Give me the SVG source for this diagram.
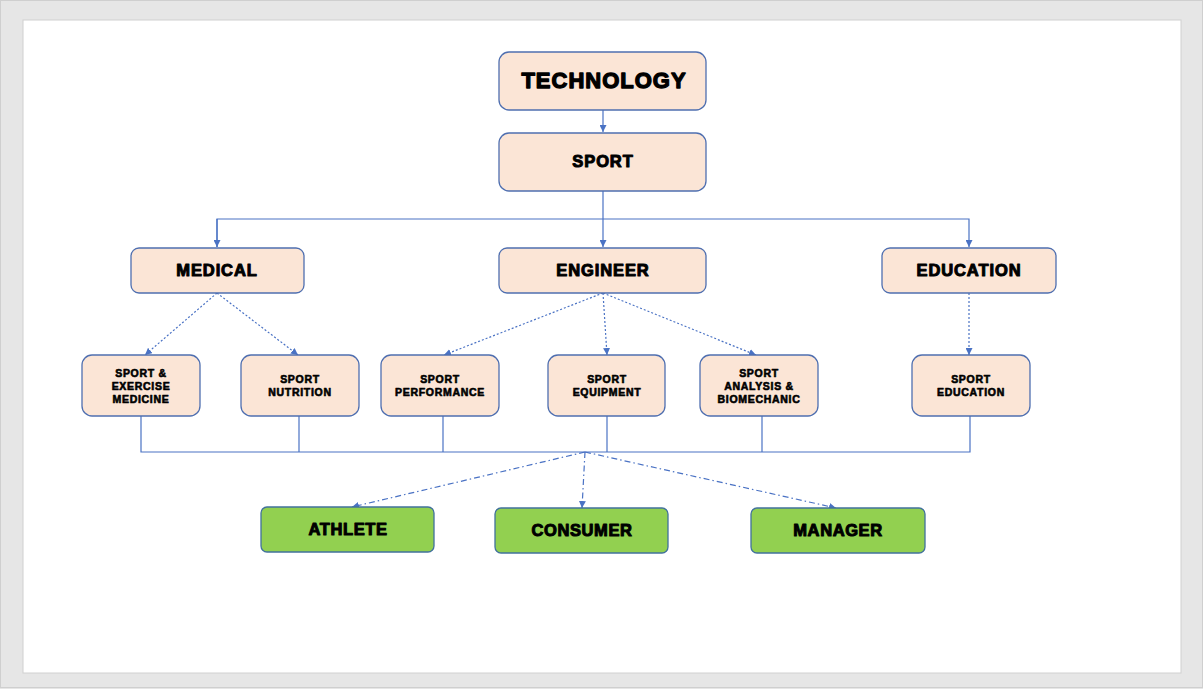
<svg xmlns="http://www.w3.org/2000/svg" width="1203" height="689" viewBox="0 0 1203 689">
<defs>
<style>
.n{fill:#fbe5d6;stroke:#4f6fb0;stroke-width:1.3}
.g{fill:#92d050;stroke:#41719c;stroke-width:1.3}
.t{font-family:"Liberation Sans",Arial,sans-serif;font-weight:bold;fill:#000;stroke:#000;text-anchor:middle;stroke-linejoin:round}
.big{font-size:22px;stroke-width:1.3;letter-spacing:1px}
.mid{font-size:16.5px;stroke-width:1;letter-spacing:0.9px}
.gm{font-size:16.5px;stroke-width:1;letter-spacing:0.6px}
.sm{font-size:10.5px;stroke-width:0.6;letter-spacing:0.7px}
.solid{stroke:#4a72c4;stroke-width:1.2;fill:none}
.dot{stroke:#4a72c4;stroke-width:1.2;fill:none;stroke-dasharray:2 2}
.dd{stroke:#4a72c4;stroke-width:1.2;fill:none;stroke-dasharray:6 3 1.5 3}
</style>
<marker id="ah" viewBox="0 0 10 10" refX="10" refY="5" markerWidth="7" markerHeight="7" orient="auto" markerUnits="userSpaceOnUse">
<path d="M0,0 L10,5 L0,10 z" fill="#4a72c4"/>
</marker>
</defs>
<rect x="0" y="0" width="1203" height="689" fill="#e6e6e6"/>
<rect x="0.5" y="0.5" width="1202" height="687" fill="none" stroke="#cfcfcf" stroke-width="1"/>
<rect x="23" y="20" width="1158" height="653" fill="#ffffff" stroke="#d0d0d0" stroke-width="1"/>
<g id="connectors">
<line class="solid" x1="603" y1="110" x2="603" y2="132" marker-end="url(#ah)"/>
<line class="solid" x1="603" y1="191" x2="603" y2="247" marker-end="url(#ah)"/>
<polyline class="solid" points="217,247 217,219 969,219 969,247" marker-end="url(#ah)"/>
<line class="solid" x1="217" y1="219" x2="217" y2="247" marker-end="url(#ah)"/>
<line class="dot" x1="217" y1="293" x2="145" y2="355" marker-end="url(#ah)"/>
<line class="dot" x1="217" y1="293" x2="298" y2="355" marker-end="url(#ah)"/>
<line class="dot" x1="603" y1="293" x2="444" y2="355" marker-end="url(#ah)"/>
<line class="dot" x1="603" y1="293" x2="607" y2="355" marker-end="url(#ah)"/>
<line class="dot" x1="603" y1="293" x2="756" y2="355" marker-end="url(#ah)"/>
<line class="dot" x1="969" y1="293" x2="969" y2="355" marker-end="url(#ah)"/>
<polyline class="solid" points="141,416 141,452 970,452 970,416"/>
<line class="solid" x1="299" y1="416" x2="299" y2="452"/>
<line class="solid" x1="443" y1="416" x2="443" y2="452"/>
<line class="solid" x1="607" y1="416" x2="607" y2="452"/>
<line class="solid" x1="762" y1="416" x2="762" y2="452"/>
<line class="dd" x1="585" y1="452" x2="352" y2="507" marker-end="url(#ah)"/>
<line class="dd" x1="585" y1="452" x2="582" y2="508" marker-end="url(#ah)"/>
<line class="dd" x1="585" y1="452" x2="836" y2="508" marker-end="url(#ah)"/>
</g>
<g id="technology"><rect class="n" x="499" y="52" width="207" height="58" rx="10"/><text class="t big" x="604" y="88">TECHNOLOGY</text></g>
<g id="sport"><rect class="n" x="499" y="133" width="207" height="58" rx="10"/><text class="t mid" x="603" y="167">SPORT</text></g>
<g id="medical"><rect class="n" x="131" y="248" width="173" height="45" rx="8"/><text class="t mid" x="217" y="276">MEDICAL</text></g>
<g id="engineer"><rect class="n" x="499" y="248" width="207" height="45" rx="8"/><text class="t mid" x="603" y="276">ENGINEER</text></g>
<g id="education"><rect class="n" x="882" y="248" width="174" height="45" rx="8"/><text class="t mid" x="969" y="276">EDUCATION</text></g>
<g id="sport-exercise-medicine"><rect class="n" x="82" y="355" width="118" height="61" rx="10"/><text class="t sm" x="141" y="377">SPORT &amp;<tspan x="141" dy="13">EXERCISE</tspan><tspan x="141" dy="13">MEDICINE</tspan></text></g>
<g id="sport-nutrition"><rect class="n" x="241" y="355" width="118" height="61" rx="10"/><text class="t sm" x="300" y="383">SPORT<tspan x="300" dy="13">NUTRITION</tspan></text></g>
<g id="sport-performance"><rect class="n" x="381" y="355" width="118" height="61" rx="10"/><text class="t sm" x="440" y="383">SPORT<tspan x="440" dy="13">PERFORMANCE</tspan></text></g>
<g id="sport-equipment"><rect class="n" x="548" y="355" width="117" height="61" rx="10"/><text class="t sm" x="607" y="383">SPORT<tspan x="607" dy="13">EQUIPMENT</tspan></text></g>
<g id="sport-analysis"><rect class="n" x="700" y="355" width="118" height="61" rx="10"/><text class="t sm" x="759" y="377">SPORT<tspan x="759" dy="13">ANALYSIS &amp;</tspan><tspan x="759" dy="13">BIOMECHANIC</tspan></text></g>
<g id="sport-education"><rect class="n" x="912" y="355" width="118" height="61" rx="10"/><text class="t sm" x="971" y="383">SPORT<tspan x="971" dy="13">EDUCATION</tspan></text></g>
<g id="athlete"><rect class="g" x="261" y="507" width="173" height="45" rx="6"/><text class="t gm" x="348" y="535">ATHLETE</text></g>
<g id="consumer"><rect class="g" x="495" y="508" width="173" height="45" rx="6"/><text class="t gm" x="582" y="536">CONSUMER</text></g>
<g id="manager"><rect class="g" x="751" y="508" width="174" height="45" rx="6"/><text class="t gm" x="838" y="536">MANAGER</text></g>
</svg>
